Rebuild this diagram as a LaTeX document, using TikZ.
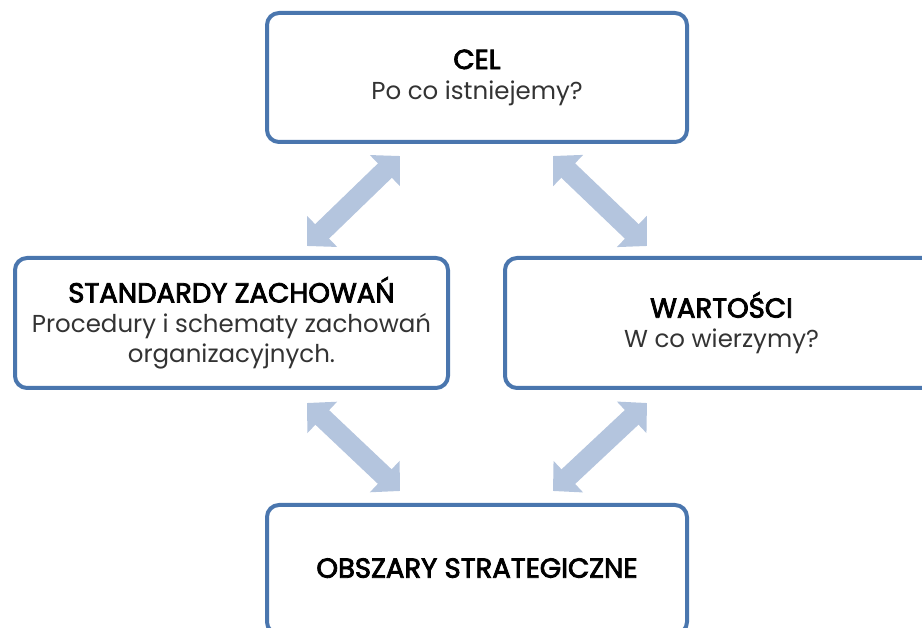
\documentclass[tikz,border=0pt]{standalone}
\usepackage{fontspec}
\setmainfont{Poppins}
\newfontfamily\headfont[FakeBold=3]{Poppins}
\usetikzlibrary{calc, arrows.meta, positioning}
\definecolor{boxblue}{RGB}{74,118,174}
\definecolor{linkblue}{RGB}{180,197,222}
\newcommand{\boxhead}[1]{{\headfont\fontsize{27.5}{30}\selectfont\color{black}#1}}

\begin{document}
\begin{tikzpicture}[x=1pt, y=-1pt,
  box/.style={shape=rectangle, draw=boxblue, line width=4pt, rounded corners=12pt, fill=white,
    align=center, inner sep=0pt, text=black!80, font=\fontsize{24.5}{30}\selectfont},
  link/.style={draw=linkblue, line width=20pt,
    {Triangle[length=21pt,width=42pt]}-{Triangle[length=21pt,width=42pt]}}]
\useasboundingbox (0,0) rectangle (922,628);
\clip (0,0) rectangle (922,628);
\node[box, minimum width=420pt, minimum height=129pt] (cel) at (477,77.5) {\boxhead{CEL}\\Po co istniejemy?};
\node[box, minimum width=433pt, minimum height=130pt] (std) at (231.5,323) {\boxhead{STANDARDY ZACHOWAŃ}\\Procedury i schematy zachowań\\organizacyjnych.};
\node[box, minimum width=433pt, minimum height=130pt] (war) at (721.5,323) {\boxhead{WARTOŚCI}\\W co wierzymy?};
\node[box, minimum width=420pt, minimum height=129pt] (obs) at (477,569.5) {\raisebox{3pt}{\boxhead{OBSZARY STRATEGICZNE}}};
% arrow ends
\coordinate (cel-l) at ($(cel.south)+(-77,12)$);
\coordinate (cel-r) at ($(cel.south)+(76,12)$);
\coordinate (std-t) at ($(std.north)+(75.5,-10)$);
\coordinate (std-b) at ($(std.south)+(75.5,13)$);
\coordinate (war-t) at ($(war.north)+(-74.5,-10)$);
\coordinate (war-b) at ($(war.south)+(-74.5,13)$);
\coordinate (obs-l) at ($(obs.north)+(-77,-12)$);
\coordinate (obs-r) at ($(obs.north)+(76,-12)$);
%
\draw[link] (std-t) -- (cel-l);
\draw[link] (cel-r) -- (war-t);
\draw[link] (std-b) -- (obs-l);
\draw[link] (war-b) -- (obs-r);
\end{tikzpicture}
\end{document}
